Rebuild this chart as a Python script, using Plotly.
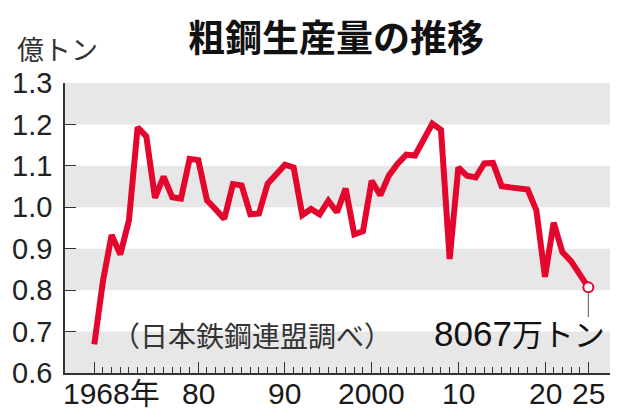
import plotly.graph_objects as go

# ---- data ----
years = list(range(1968, 2026))
output_oku_ton = [
    0.669, 0.822, 0.933, 0.886, 0.969, 1.193, 1.171, 1.023, 1.074, 1.024,
    1.021, 1.117, 1.114, 1.017, 0.995, 0.972, 1.056, 1.053, 0.983, 0.985,
    1.057, 1.079, 1.103, 1.096, 0.981, 0.996, 0.983, 1.016, 0.988, 1.045,
    0.935, 0.942, 1.064, 1.029, 1.077, 1.105, 1.127, 1.125, 1.162, 1.202,
    1.187, 0.875, 1.096, 1.076, 1.072, 1.106, 1.107, 1.051, 1.048, 1.047,
    1.043, 0.993, 0.832, 0.963, 0.892, 0.870, 0.840, 0.8067,
]
x_tick_years = [1968, 1980, 1990, 2000, 2010, 2020, 2025]
x_tick_labels = ["1968年", "80", "90", "2000", "10", "20", "25"]
y_tick_vals = [0.6, 0.7, 0.8, 0.9, 1.0, 1.1, 1.2, 1.3]
band_ranges = [(0.6, 0.7), (0.8, 0.9), (1.0, 1.1), (1.2, 1.3)]
title_text = "粗鋼生産量の推移"
unit_text = "億トン"
source_text = "（日本鉄鋼連盟調べ）"
last_label_num = "8067"
last_label_unit = "万トン"

RED = "#e5062d"
AX = "#333333"
CJK = "Noto Sans CJK JP"
SANS = "Liberation Sans, Arial, Noto Sans CJK JP"

fig = go.Figure()

fig.add_trace(go.Scatter(
    x=years, y=output_oku_ton, mode="lines",
    line=dict(color=RED, width=6),
    hoverinfo="skip", showlegend=False,
))
fig.add_trace(go.Scatter(
    x=[years[-1]], y=[output_oku_ton[-1]], mode="markers",
    marker=dict(size=10, color="white", line=dict(color=RED, width=2)),
    hoverinfo="skip", showlegend=False,
))

shapes = []
for lo, hi in band_ranges:
    shapes.append(dict(type="rect", xref="paper", yref="y", x0=0, x1=1,
                       y0=lo, y1=hi, fillcolor="#e7e7e7", line=dict(width=0),
                       layer="below"))
# leader line from the last point down to its label
shapes.append(dict(type="line", xref="x", yref="y",
                   x0=years[-1], x1=years[-1],
                   y0=output_oku_ton[-1] - 0.014, y1=0.735,
                   line=dict(color="#555555", width=1)))

XLAB_SIZE = 30
annotations = []
for yr, lab in zip(x_tick_years, x_tick_labels):
    if lab.endswith("年"):
        annotations.append(dict(x=yr, y=0, xref="x", yref="paper",
                                text=lab, showarrow=False, xanchor="left",
                                yanchor="middle", xshift=-33, yshift=-20,
                                font=dict(family=SANS, size=XLAB_SIZE, color="#1a1a1a")))
    else:
        annotations.append(dict(x=yr, y=0, xref="x", yref="paper",
                                text=lab, showarrow=False, xanchor="center",
                                yanchor="middle", yshift=-20,
                                font=dict(family=SANS, size=XLAB_SIZE, color="#1a1a1a")))

annotations += [
    dict(x=0.497, y=1.161, xref="paper", yref="paper", text="<b>" + title_text + "</b>",
         showarrow=False, xanchor="center", yanchor="middle",
         font=dict(family=CJK, size=37, color="#111111")),
    dict(x=-0.091, y=1.12, xref="paper", yref="paper", text=unit_text,
         showarrow=False, xanchor="left", yanchor="middle",
         font=dict(family=CJK, size=27, color="#333333")),
    dict(x=0.0826, y=0.13, xref="paper", yref="paper", text=source_text,
         showarrow=False, xanchor="left", yanchor="middle",
         font=dict(family=CJK, size=28, color="#333333")),
    dict(x=0.9945, y=0.137, xref="paper", yref="paper",
         text=last_label_num + "<span style='font-size:31px'>" + last_label_unit + "</span>",
         showarrow=False, xanchor="right", yanchor="middle",
         font=dict(family=SANS, size=35, color="#111111")),
]

# page body has an 8px default margin, so the figure is drawn 8px smaller
fig.update_layout(
    width=620, height=410,
    margin=dict(l=57, r=18, t=75, b=45, pad=0, autoexpand=False),
    paper_bgcolor="white", plot_bgcolor="white",
    shapes=shapes, annotations=annotations,
    showlegend=False,
)
fig.update_xaxes(
    range=[1964.62, 2027.5], automargin=False,
    tickmode="array", tickvals=x_tick_years, ticktext=x_tick_labels,
    showticklabels=False,
    ticks="inside", ticklen=11, tickwidth=1.2, tickcolor=AX,
    minor=dict(tickmode="array", tickvals=[y for y in years if y not in x_tick_years],
               ticks="inside", ticklen=6, tickwidth=1, tickcolor=AX),
    showline=True, linecolor=AX, linewidth=1.5,
    showgrid=False, zeroline=False, fixedrange=True,
)
fig.update_yaxes(
    range=[0.6, 1.3], automargin=False,
    tickmode="array", tickvals=y_tick_vals,
    ticktext=[f"{v:.1f}" for v in y_tick_vals],
    ticks="inside", ticklen=11, tickwidth=1.2, tickcolor=AX,
    tickfont=dict(family=SANS, size=29, color="#222222"),
    ticklabelstandoff=5,
    showline=True, linecolor=AX, linewidth=1.5,
    showgrid=False, zeroline=False, fixedrange=True,
)

fig.write_html("out.html", config={"displayModeBar": False})
